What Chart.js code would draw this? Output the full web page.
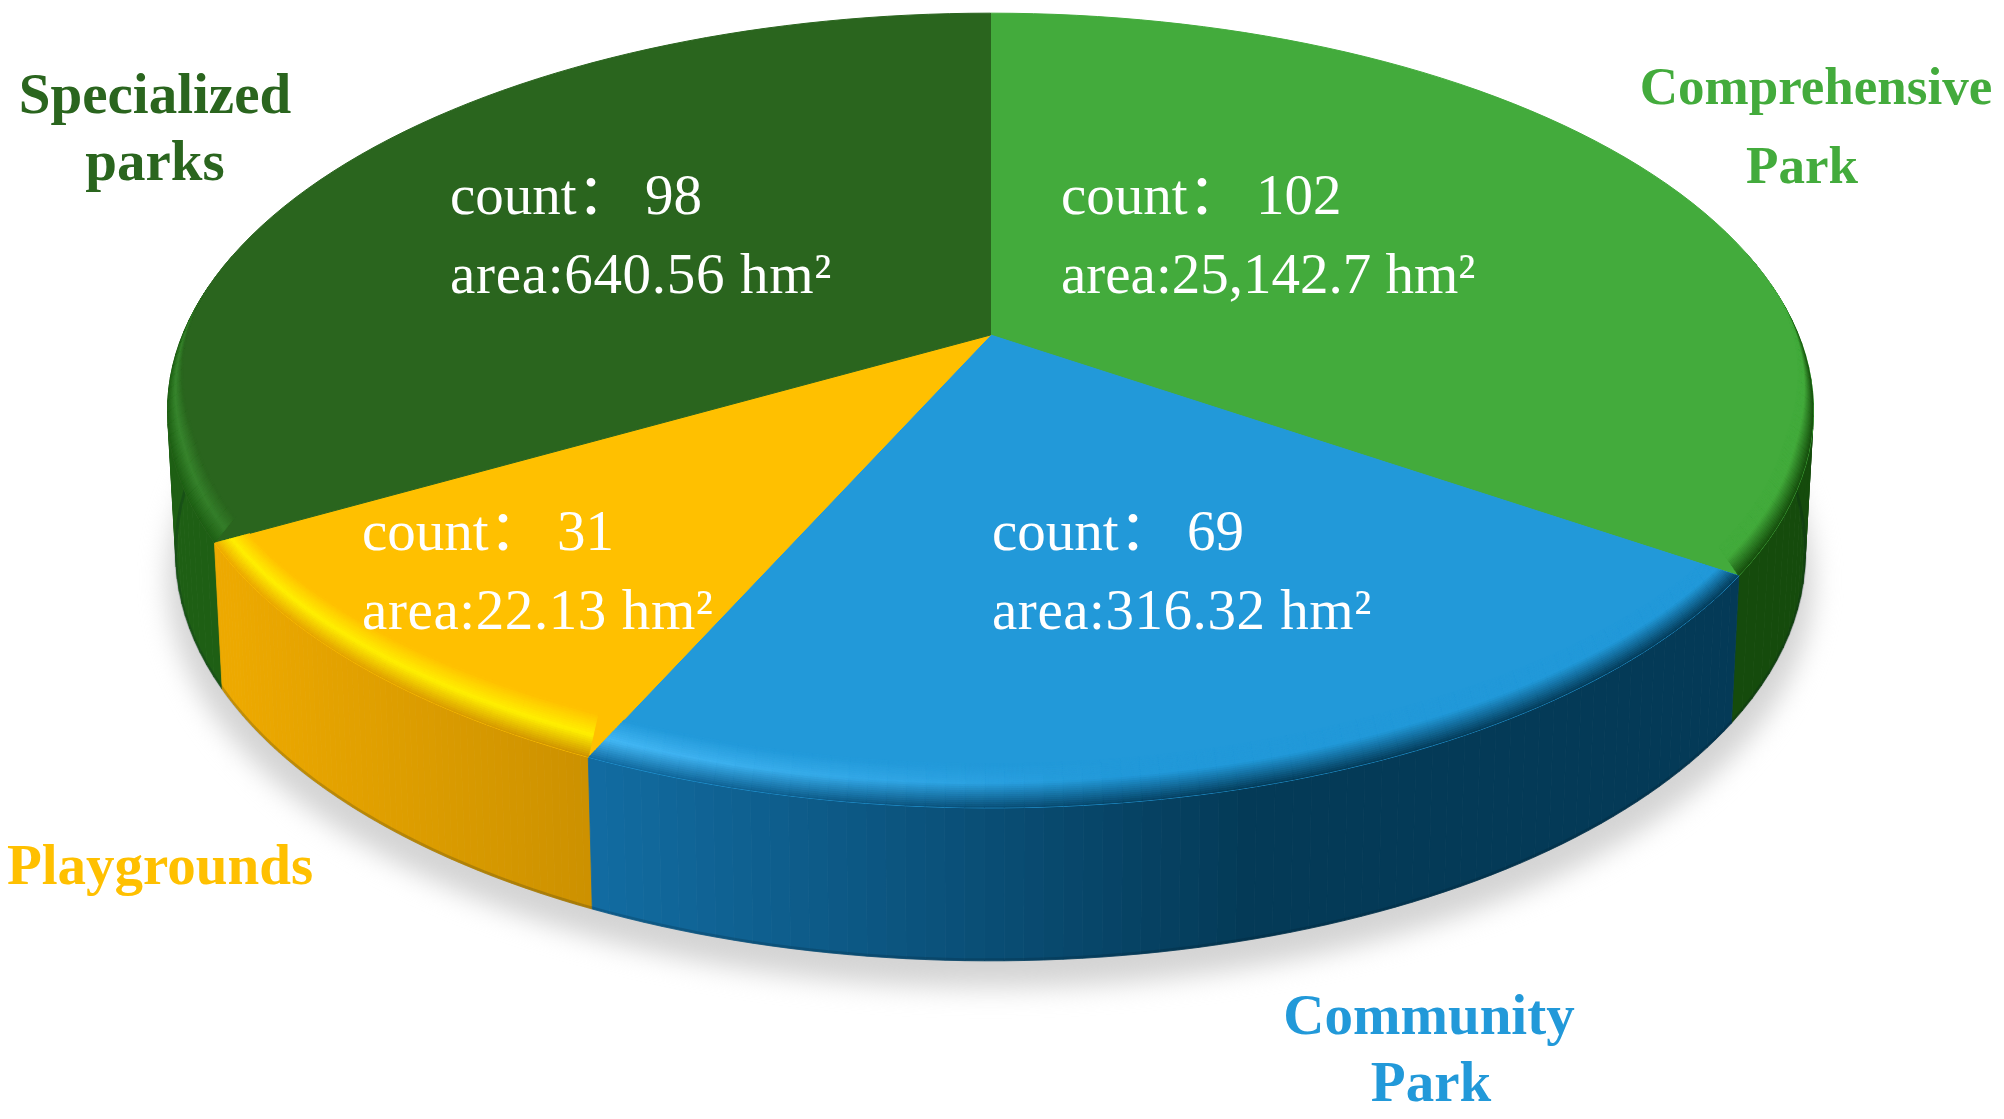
<!DOCTYPE html>
<html><head><meta charset="utf-8">
<style>html,body{margin:0;padding:0;background:#fff}canvas{display:block}</style>
<script src="https://cdn.jsdelivr.net/npm/chart.js@4"></script></head>
<body><canvas id="c" width="2004" height="1119"></canvas>
<script>
const categories = ['Comprehensive Park','Community Park','Playgrounds','Specialized parks'];
const counts = [102,69,31,98];
const areas = ['25,142.7','316.32','22.13','640.56'];
const topColors = ['#43AB3C','#2299D9','#FFC000','#2A651E'];

// drawing styles and layout
const sideLeft  = ['#154B0C','#126CA2','#EDA900','#1E5F14'];
const sideRight = ['#154B0C','#043A57','#CC9100','#1E5F14'];
const sideRange = [[0,1],[590,1250],[230,590],[0,1]];
const glow = ['#43AB3C','#45B8F5','#FFF000','#3A8A30'];
const glowRange = [[0,0],[590,1120],[200,2000],[150,330]];
const infoPos = [[1061,214],[992,550],[362,550],[450,214]];
const areaSpacing = ['0px','0.55px','0.6px','0.7px'];
const outerLabels = [
  {size:53,lines:[['Comprehensive',1816,104],['Park',1802,183]],i:0},
  {size:57,lines:[['Community',1429,1034],['Park',1431,1101]],i:1},
  {size:57,lines:[['Playgrounds',160,884]],i:2},
  {size:57,lines:[['Specialized',155,113],['parks',155,180]],i:3}
];
const G = {cx:990.5, cy:335, A:808, B:383, k:0.19, depth:140, depthFront:13, taper:0.99, warp:2.1*Math.PI/180};

const hex = h => [1,3,5].map(i=>parseInt(h.substr(i,2),16));
const mix = (a,b,t)=>{const p=hex(a),q=hex(b);return p.map((v,i)=>Math.round(v+(q[i]-v)*t));};
const mixA = (p,q,t)=>p.map((v,i)=>Math.round(v+(q[i]-v)*t));
const css = c=>`rgb(${c[0]},${c[1]},${c[2]})`;
const clamp = v=>Math.max(0,Math.min(1,v));

function proj(a0){ // chart angle onto the tilted disc
  const a=a0+G.warp*Math.cos(a0);
  const u=Math.cos(a), v=Math.sin(a), w=1-G.k*v;
  return {x:G.cx+G.A*u/w, y:G.cy+G.B*v/w, u, v};
}
const lower = p=>({x:G.cx+(p.x-G.cx)*G.taper, y:p.y+G.depth+G.depthFront*clamp(p.v)});
function inner(p,t){
  const dx=-p.u*24*clamp((p.v+0.1)/0.4), dy=-44*clamp((p.v+0.1)/1.0);
  return {x:p.x+dx*t, y:p.y+dy*t};
}
function rim(arc,n){
  const pts=[];
  for(let j=0;j<=n;j++) pts.push(proj(arc.startAngle+(arc.endAngle-arc.startAngle)*j/n));
  return pts;
}
function quad(ctx,a,b,c,d,col){
  ctx.fillStyle=col; ctx.strokeStyle=col; ctx.lineWidth=0.8;
  ctx.beginPath(); ctx.moveTo(a.x,a.y); ctx.lineTo(b.x,b.y); ctx.lineTo(c.x,c.y); ctx.lineTo(d.x,d.y); ctx.closePath();
  ctx.fill(); ctx.stroke();
}
function sideColor(i,x){
  const r=sideRange[i];
  return mix(sideLeft[i],sideRight[i],clamp((x-r[0])/(r[1]-r[0])));
}

const pie3d = {
  id:'pie3d',
  beforeDatasetDraw(chart){
    const ctx=chart.ctx, arcs=chart.getDatasetMeta(0).data;
    const N=70;
    // soft floor shadow
    ctx.save();
    ctx.filter='blur(13px)';
    ctx.fillStyle='#d4d4d4';
    ctx.beginPath();
    for(let j=0;j<=200;j++){
      const p=lower(proj(j/200*Math.PI*2));
      ctx.lineTo(p.x+(p.x-G.cx)*0.01, p.y+27);
    }
    ctx.closePath(); ctx.fill();
    ctx.restore();
    // outer wall, back to front
    [0,3,2,1].forEach(i=>{
      const pts=rim(arcs[i],N);
      for(let j=0;j<N;j++){
        const a=pts[j],b=pts[j+1];
        if(Math.max(a.v,b.v)<-0.2) continue;
        quad(ctx,a,b,lower(b),lower(a),css(sideColor(i,(a.x+b.x)/2)));
      }
    });
    // darker lip along the bottom of the wall
    [0,3,2,1].forEach(i=>{
      const pts=rim(arcs[i],N);
      ctx.save(); ctx.globalAlpha=0.18; ctx.lineWidth=3; ctx.strokeStyle='#00141f';
      ctx.beginPath();
      pts.forEach(p=>{ if(p.v<-0.05) return; const q=lower(p); ctx.lineTo(q.x,q.y-1);});
      ctx.stroke(); ctx.restore();
    });
    // top faces
    arcs.forEach((arc,i)=>{
      const pts=rim(arc,N);
      ctx.fillStyle=topColors[i]; ctx.strokeStyle=topColors[i]; ctx.lineWidth=1;
      ctx.beginPath(); ctx.moveTo(G.cx,G.cy);
      pts.forEach(p=>ctx.lineTo(p.x,p.y));
      ctx.closePath(); ctx.fill(); ctx.stroke();
    });
    // rounded edge between top and wall, kept inside each wedge
    const S=22;
    arcs.forEach((arc,i)=>{
      const pts=rim(arc,N), top=hex(topColors[i]), gl=hex(glow[i]);
      ctx.save();
      ctx.beginPath(); ctx.moveTo(G.cx,G.cy);
      pts.forEach(p=>ctx.lineTo(p.x,p.y));
      ctx.closePath(); ctx.clip();
      for(let j=0;j<N;j++){
        const a=pts[j], b=pts[j+1], mx=(a.x+b.x)/2;
        if(Math.max(a.v,b.v)<-0.1) continue;
        const gr=glowRange[i];
        let g=0;
        if(i===2) g=1;
        else if(gr[1]>gr[0]) g=1-clamp((mx-gr[0])/(gr[1]-gr[0]));
        const wall=sideColor(i,mx);
        const peak=mixA(top,gl,g);
        const pk=0.5+0.1*(1-g);
        for(let s=0;s<S;s++){
          const t0=s/S,t1=(s+1)/S,t=(t0+t1)/2;
          const col=t<pk?mixA(wall,peak,t/pk):mixA(peak,top,(t-pk)/(1-pk));
          quad(ctx,inner(a,t0),inner(b,t0),inner(b,t1),inner(a,t1),css(col));
        }
      }
      ctx.restore();
    });
    return false;
  },
  afterDatasetsDraw(chart){
    const ctx=chart.ctx;
    ctx.save();
    ctx.textBaseline='alphabetic';
    ctx.fillStyle='#fff';
    ctx.textAlign='left';
    ctx.font='57px "Liberation Serif","Noto Sans CJK SC",serif';
    counts.forEach((n,i)=>{
      const [x,y]=infoPos[i];
      ctx.letterSpacing='0px';
      ctx.fillText('count：\u2009'+n,x,y);
      ctx.letterSpacing=areaSpacing[i];
      ctx.fillText('area:'+areas[i]+' hm²',x,y+79);
    });
    ctx.letterSpacing='0px';
    ctx.textAlign='center';
    outerLabels.forEach(l=>{
      ctx.font=`bold ${l.size}px "Liberation Serif",serif`;
      ctx.fillStyle=topColors[l.i];
      l.lines.forEach(([t,x,y])=>ctx.fillText(t,x,y));
    });
    ctx.restore();
  }
};

new Chart(document.getElementById('c'),{
  type:'pie',
  data:{labels:categories,datasets:[{data:counts,backgroundColor:topColors,borderWidth:0}]},
  options:{responsive:false,animation:false,events:[],
    plugins:{legend:{display:false},tooltip:{enabled:false},title:{display:false}}},
  plugins:[pie3d]
});
</script></body></html>
